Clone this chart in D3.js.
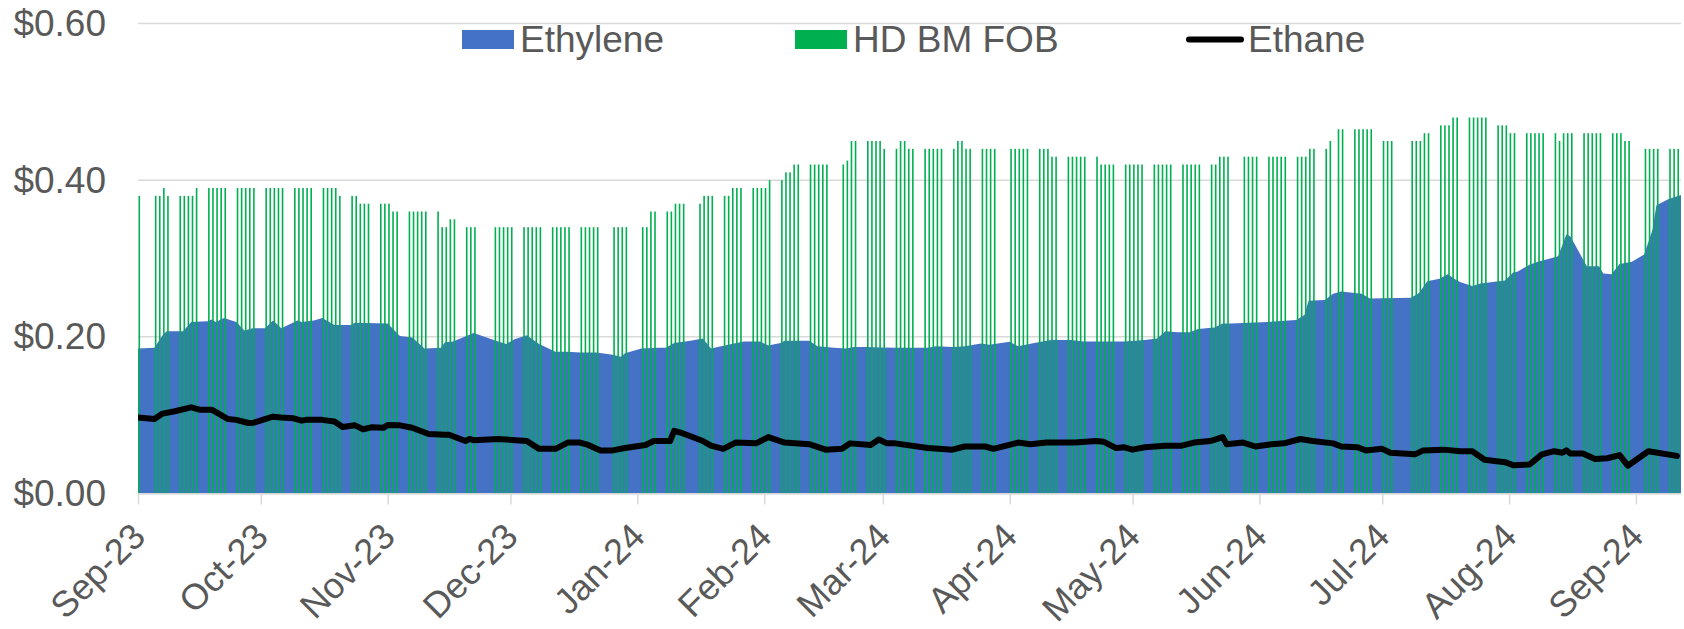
<!DOCTYPE html>
<html>
<head>
<meta charset="utf-8">
<script src="https://cdn.jsdelivr.net/npm/d3@7"></script>
<style>
  html, body { margin: 0; padding: 0; background: #fff; }
  svg text { font-family: "Liberation Sans", Arial, sans-serif; fill: #595959; }
</style>
</head>
<body>
<svg id="chart" width="1684" height="629"></svg>
<script>
// ---------- DATA ----------
const seriesNames = ["Ethylene", "HD BM FOB", "Ethane"];
const yTickValues = [0, 0.2, 0.4, 0.6];

const ethyleneDates = ["2023-09-01","2023-09-05","2023-09-07","2023-09-08","2023-09-12","2023-09-14","2023-09-18","2023-09-19","2023-09-20","2023-09-22","2023-09-25","2023-09-27","2023-09-29","2023-10-02","2023-10-04","2023-10-06","2023-10-10","2023-10-11","2023-10-14","2023-10-16","2023-10-19","2023-10-23","2023-10-24","2023-11-01","2023-11-04","2023-11-07","2023-11-10","2023-11-14","2023-11-15","2023-11-17","2023-11-22","2023-11-28","2023-11-30","2023-12-02","2023-12-05","2023-12-08","2023-12-12","2023-12-15","2023-12-18","2023-12-22","2023-12-26","2023-12-28","2023-12-29","2024-01-02","2024-01-06","2024-01-08","2024-01-10","2024-01-14","2024-01-17","2024-01-19","2024-01-24","2024-01-27","2024-01-31","2024-02-02","2024-02-05","2024-02-06","2024-02-12","2024-02-14","2024-02-18","2024-02-21","2024-02-23","2024-02-26","2024-03-01","2024-03-04","2024-03-12","2024-03-14","2024-03-18","2024-03-21","2024-03-25","2024-03-27","2024-04-01","2024-04-03","2024-04-07","2024-04-11","2024-04-16","2024-04-19","2024-04-23","2024-04-29","2024-05-04","2024-05-07","2024-05-09","2024-05-12","2024-05-15","2024-05-17","2024-05-21","2024-05-23","2024-05-25","2024-06-03","2024-06-10","2024-06-12","2024-06-13","2024-06-17","2024-06-19","2024-06-21","2024-06-26","2024-06-28","2024-07-08","2024-07-10","2024-07-12","2024-07-15","2024-07-17","2024-07-19","2024-07-20","2024-07-23","2024-07-25","2024-07-31","2024-08-02","2024-08-03","2024-08-06","2024-08-08","2024-08-09","2024-08-13","2024-08-15","2024-08-16","2024-08-20","2024-08-23","2024-08-24","2024-08-26","2024-08-28","2024-08-31","2024-09-03","2024-09-05","2024-09-06","2024-09-09","2024-09-12"];
const ethyleneValues = [0.185,0.186,0.202,0.207,0.207,0.219,0.220,0.222,0.219,0.224,0.219,0.208,0.211,0.211,0.221,0.211,0.221,0.219,0.221,0.224,0.215,0.215,0.218,0.217,0.201,0.199,0.185,0.186,0.193,0.194,0.205,0.194,0.191,0.197,0.202,0.191,0.181,0.181,0.180,0.180,0.177,0.1745,0.179,0.185,0.186,0.186,0.192,0.195,0.198,0.185,0.191,0.194,0.194,0.189,0.192,0.195,0.195,0.188,0.186,0.185,0.187,0.187,0.1864,0.186,0.186,0.188,0.187,0.188,0.1915,0.190,0.1936,0.188,0.192,0.196,0.196,0.194,0.194,0.194,0.196,0.198,0.207,0.206,0.206,0.210,0.212,0.217,0.217,0.219,0.2215,0.228,0.246,0.247,0.255,0.258,0.255,0.249,0.250,0.256,0.271,0.274,0.280,0.273,0.270,0.265,0.268,0.272,0.282,0.283,0.292,0.296,0.297,0.303,0.331,0.328,0.290,0.290,0.281,0.280,0.293,0.296,0.305,0.336,0.368,0.376,0.381];

const ethaneDates = ["2023-09-01","2023-09-05","2023-09-07","2023-09-10","2023-09-14","2023-09-16","2023-09-19","2023-09-23","2023-09-25","2023-09-28","2023-09-29","2023-10-02","2023-10-04","2023-10-06","2023-10-09","2023-10-11","2023-10-12","2023-10-16","2023-10-19","2023-10-21","2023-10-24","2023-10-26","2023-10-28","2023-10-31","2023-11-01","2023-11-04","2023-11-07","2023-11-11","2023-11-15","2023-11-16","2023-11-20","2023-11-21","2023-11-22","2023-11-28","2023-12-05","2023-12-08","2023-12-12","2023-12-15","2023-12-18","2023-12-20","2023-12-23","2023-12-26","2023-12-29","2024-01-03","2024-01-05","2024-01-09","2024-01-10","2024-01-12","2024-01-14","2024-01-17","2024-01-19","2024-01-22","2024-01-25","2024-01-30","2024-02-02","2024-02-06","2024-02-12","2024-02-16","2024-02-20","2024-02-22","2024-02-27","2024-02-29","2024-03-02","2024-03-04","2024-03-12","2024-03-18","2024-03-21","2024-03-26","2024-03-28","2024-04-03","2024-04-06","2024-04-10","2024-04-17","2024-04-22","2024-04-24","2024-04-27","2024-04-29","2024-05-01","2024-05-04","2024-05-09","2024-05-13","2024-05-16","2024-05-20","2024-05-23","2024-05-24","2024-05-28","2024-05-31","2024-06-04","2024-06-07","2024-06-11","2024-06-14","2024-06-19","2024-06-21","2024-06-25","2024-06-27","2024-07-01","2024-07-03","2024-07-09","2024-07-11","2024-07-16","2024-07-20","2024-07-23","2024-07-26","2024-07-31","2024-08-02","2024-08-06","2024-08-09","2024-08-12","2024-08-14","2024-08-15","2024-08-16","2024-08-19","2024-08-22","2024-08-25","2024-08-28","2024-08-30","2024-09-04","2024-09-11"];
const ethaneValues = [0.097,0.095,0.102,0.105,0.110,0.107,0.107,0.095,0.094,0.090,0.090,0.095,0.098,0.097,0.096,0.093,0.094,0.094,0.092,0.085,0.087,0.082,0.0845,0.084,0.0875,0.087,0.084,0.076,0.075,0.075,0.067,0.0696,0.068,0.0696,0.067,0.057,0.057,0.065,0.065,0.062,0.055,0.055,0.058,0.062,0.067,0.067,0.080,0.077,0.073,0.067,0.061,0.057,0.065,0.064,0.072,0.065,0.063,0.056,0.057,0.064,0.062,0.069,0.064,0.064,0.058,0.056,0.060,0.060,0.057,0.065,0.063,0.065,0.065,0.067,0.066,0.058,0.059,0.056,0.059,0.061,0.061,0.065,0.067,0.072,0.063,0.065,0.060,0.063,0.064,0.0696,0.067,0.064,0.060,0.059,0.055,0.057,0.052,0.050,0.055,0.056,0.054,0.054,0.043,0.040,0.036,0.037,0.050,0.054,0.052,0.055,0.051,0.051,0.044,0.045,0.049,0.0355,0.054,0.048];

// HD BM FOB: one row per week (Mon..Fri), null = no assessment
const hdbmWeekStarts = ["2023-08-28","2023-09-04","2023-09-11","2023-09-18","2023-09-25","2023-10-02","2023-10-09","2023-10-16","2023-10-23","2023-10-30","2023-11-06","2023-11-13","2023-11-20","2023-11-27","2023-12-04","2023-12-11","2023-12-18","2023-12-25","2024-01-01","2024-01-08","2024-01-15","2024-01-22","2024-01-29","2024-02-05","2024-02-12","2024-02-19","2024-02-26","2024-03-04","2024-03-11","2024-03-18","2024-03-25","2024-04-01","2024-04-08","2024-04-15","2024-04-22","2024-04-29","2024-05-06","2024-05-13","2024-05-20","2024-05-27","2024-06-03","2024-06-10","2024-06-17","2024-06-24","2024-07-01","2024-07-08","2024-07-15","2024-07-22","2024-07-29","2024-08-05","2024-08-12","2024-08-19","2024-08-26","2024-09-02","2024-09-09"];
const hdbmWeekValues = [
  [null,null,null,null,0.38],
  [null,0.38,0.38,0.39,0.38],
  [0.38,0.38,0.38,0.38,0.39],
  [0.39,0.39,0.39,0.39,0.39],
  [0.39,0.39,0.39,0.39,0.39],
  [0.39,0.39,0.39,0.39,0.39],
  [0.39,0.39,0.39,0.39,0.39],
  [0.39,0.39,0.39,0.39,0.38],
  [0.38,0.38,0.37,0.37,0.37],
  [0.37,0.37,0.37,0.36,0.36],
  [0.36,0.36,0.36,0.36,0.36],
  [0.36,0.34,0.34,0.35,0.35],
  [0.34,0.34,0.34,null,null],
  [0.34,0.34,0.34,0.34,0.34],
  [0.34,0.34,0.34,0.34,0.34],
  [0.34,0.34,0.34,0.34,0.34],
  [0.34,0.34,0.34,0.34,0.34],
  [null,0.34,0.34,0.34,0.34],
  [null,0.34,0.34,0.36,0.36],
  [0.36,0.36,0.37,0.37,0.37],
  [null,0.37,0.38,0.38,0.38],
  [0.38,0.38,0.39,0.39,0.39],
  [0.39,0.39,0.39,0.39,0.40],
  [0.40,0.41,0.41,0.42,0.42],
  [0.42,0.42,0.42,0.42,0.42],
  [null,0.42,0.425,0.45,0.45],
  [0.45,0.45,0.45,0.45,0.44],
  [0.44,0.45,0.45,0.44,0.44],
  [0.44,0.44,0.44,0.44,0.44],
  [0.44,0.45,0.45,0.44,0.44],
  [0.44,0.44,0.44,0.44,null],
  [0.44,0.44,0.44,0.44,0.44],
  [0.44,0.44,0.44,0.43,0.43],
  [0.43,0.43,0.43,0.43,0.43],
  [0.43,0.42,0.42,0.42,0.42],
  [0.42,0.42,0.42,0.42,0.42],
  [0.42,0.42,0.42,0.42,0.42],
  [0.42,0.42,0.42,0.42,0.42],
  [0.42,0.42,0.43,0.43,0.43],
  [null,0.43,0.43,0.43,0.43],
  [0.43,0.43,0.43,0.43,0.43],
  [0.43,0.43,0.43,0.44,0.44],
  [0.44,0.45,null,0.465,0.465],
  [0.465,0.465,0.465,0.465,0.465],
  [0.45,0.45,0.45,null,null],
  [0.45,0.45,0.45,0.46,0.46],
  [0.47,0.47,0.47,0.48,0.48],
  [0.48,0.48,0.48,0.48,0.48],
  [0.47,0.47,0.47,0.46,0.46],
  [0.46,0.46,0.46,0.46,0.46],
  [0.46,0.45,0.46,0.46,0.46],
  [0.46,0.46,0.46,0.46,0.46],
  [0.46,0.46,0.46,0.45,0.45],
  [null,0.44,0.44,0.44,0.44],
  [0.44,0.44,0.44,null,null]
];

const xStart = "2023-09-01";
const xEnd = "2024-09-12";

// ---------- BUILD ----------
(function () {
const parse = d3.utcParse("%Y-%m-%d");
const ethylene = ethyleneDates.map((d, i) => ({ date: parse(d), v: ethyleneValues[i] }));
const ethane = ethaneDates.map((d, i) => ({ date: parse(d), v: ethaneValues[i] }));
const hdbm = [];
hdbmWeekStarts.forEach((w, wi) => {
  const start = parse(w);
  hdbmWeekValues[wi].forEach((v, di) => {
    if (v !== null) hdbm.push({ date: d3.utcDay.offset(start, di), v });
  });
});

const pLeft = 138, pRight = 1681, pTop = 23.5, pBottom = 493.5;
const fontSize = "37px";

const svg = d3.select("#chart");
const x = d3.scaleUtc().domain([parse(xStart), parse(xEnd)]).range([pLeft, pRight]);
const y = d3.scaleLinear().domain([0, 0.6]).range([pBottom, pTop]);

svg.append("defs").append("clipPath").attr("id", "plotclip")
  .append("rect").attr("x", pLeft).attr("y", 0).attr("width", pRight - pLeft).attr("height", pBottom);

// gridlines
svg.append("g").selectAll("line").data(yTickValues.filter(v => v > 0)).join("line")
  .attr("x1", pLeft).attr("x2", pRight)
  .attr("y1", d => y(d)).attr("y2", d => y(d))
  .attr("stroke", "#d9d9d9").attr("stroke-width", 1.5);

// y labels
svg.append("g").selectAll("text").data(yTickValues).join("text")
  .attr("x", 106).attr("y", d => y(d))
  .attr("text-anchor", "end").attr("dominant-baseline", "central")
  .style("font-size", fontSize)
  .text(d => "$" + d3.format(".2f")(d));

const plot = svg.append("g").attr("clip-path", "url(#plotclip)");

// Ethylene area
plot.append("path").datum(ethylene)
  .attr("fill", "#4472C4")
  .attr("d", d3.area().x(d => x(d.date)).y0(y(0)).y1(d => y(d.v)));

// HD BM FOB bars
plot.append("g").selectAll("rect").data(hdbm).join("rect")
  .attr("x", d => x(d.date) + 0.5)
  .attr("width", 1.6)
  .attr("y", d => y(d.v))
  .attr("height", d => y(0) - y(d.v))
  .attr("fill", "#00B050");

// Ethane line
plot.append("path").datum(ethane)
  .attr("fill", "none").attr("stroke", "#000").attr("stroke-width", 6)
  .attr("stroke-linejoin", "round").attr("stroke-linecap", "round")
  .attr("d", d3.line().x(d => x(d.date)).y(d => y(d.v)));

// x axis
const xAxis = d3.axisBottom(x)
  .ticks(d3.utcMonth.every(1))
  .tickFormat(d3.utcFormat("%b-%y"))
  .tickSize(11)
  .tickSizeOuter(0);
const gx = svg.append("g").attr("transform", `translate(0,${pBottom})`).call(xAxis);
gx.select(".domain").attr("stroke", "#d9d9d9").attr("stroke-width", 1.5);
gx.selectAll(".tick line").attr("stroke", "#d9d9d9").attr("stroke-width", 1.5);
gx.selectAll(".tick text")
  .attr("fill", "#595959")
  .style("font-size", "36px")
  .style("font-family", '"Liberation Sans", Arial, sans-serif')
  .attr("text-anchor", "end")
  .attr("dy", null)
  .attr("y", 0)
  .attr("transform", "translate(9,45) rotate(-45)");

// legend
const lg = svg.append("g");
lg.append("rect").attr("x", 462).attr("y", 30).attr("width", 52).attr("height", 19).attr("fill", "#4472C4");
lg.append("text").attr("x", 520).attr("y", 52).style("font-size", fontSize).text(seriesNames[0]);
lg.append("rect").attr("x", 795).attr("y", 30).attr("width", 52).attr("height", 19).attr("fill", "#00B050");
lg.append("text").attr("x", 853).attr("y", 52).style("font-size", fontSize).text(seriesNames[1]);
lg.append("line").attr("x1", 1189).attr("x2", 1241).attr("y1", 39.5).attr("y2", 39.5)
  .attr("stroke", "#000").attr("stroke-width", 6).attr("stroke-linecap", "round");
lg.append("text").attr("x", 1248).attr("y", 52).style("font-size", fontSize).text(seriesNames[2]);
})();
</script>
</body>
</html>
